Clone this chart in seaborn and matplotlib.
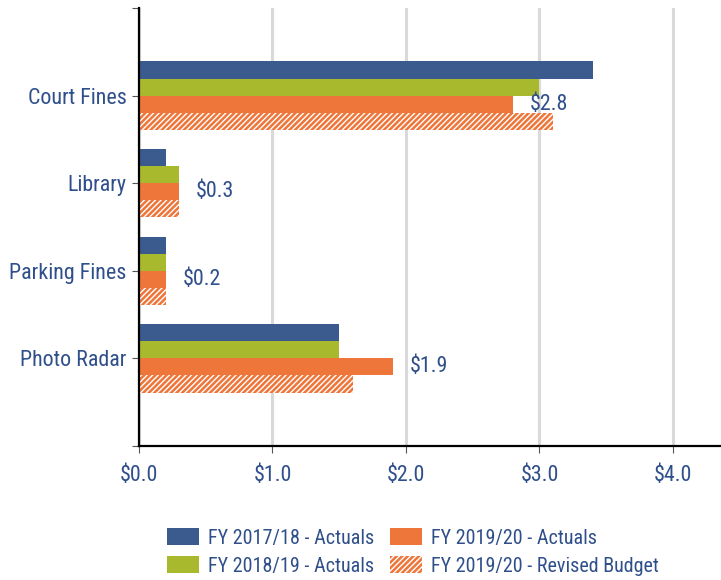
import matplotlib
matplotlib.use('Agg')
import matplotlib.pyplot as plt
import seaborn as sns
import pandas as pd

# data (in $ millions)
categories = ['Court Fines', 'Library', 'Parking Fines', 'Photo Radar']
series = ['FY 2017/18 - Actuals', 'FY 2018/19 - Actuals',
          'FY 2019/20 - Actuals', 'FY 2019/20 - Revised Budget']
fy1718 = [3.4, 0.2, 0.2, 1.5]
fy1819 = [3.0, 0.3, 0.2, 1.5]
fy1920 = [2.8, 0.3, 0.2, 1.9]
fy1920_budget = [3.1, 0.3, 0.2, 1.6]
x_ticks = [0, 1, 2, 3, 4]

colors = ['#3b5b8e', '#a9b92d', '#ee763a', '#ee763a']
text_color = '#2f4f8b'

df = pd.DataFrame({
    'Category': categories * 4,
    'Series': [s for s in series for _ in categories],
    'Value': fy1718 + fy1819 + fy1920 + fy1920_budget,
})

sns.set_style('white')
plt.rcParams['font.family'] = ['Roboto Condensed', 'DejaVu Sans']
plt.rcParams['hatch.linewidth'] = 1.0

fig = plt.figure(figsize=(7.21, 5.8), dpi=100)
ax = fig.add_axes([139 / 721, 1 - 446 / 580, 582 / 721, 438 / 580])

sns.barplot(data=df, y='Category', x='Value', hue='Series', order=categories,
            hue_order=series, palette=colors, orient='h', width=0.78,
            saturation=1, legend=False, ax=ax)

# hatched revised budget bars
for p in ax.containers[3]:
    p.set_hatch('//////')
    p.set_edgecolor('white')
    p.set_linewidth(0)
for c in ax.containers[:3]:
    for p in c:
        p.set_linewidth(0)

ax.bar_label(ax.containers[2], labels=[f'${v:.1f}' for v in fy1920],
             padding=12, color=text_color, fontsize=15.8)

ax.set_xlim(0, 4.36)
ax.set_ylim(4, -1)
ax.set_xticks(x_ticks)
ax.set_xticklabels([f'${v:.1f}' for v in x_ticks])
ax.set_yticks([-1, 0, 1, 2, 3, 4])
ax.set_yticklabels([''] + categories + [''])
ax.set_xlabel('')
ax.set_ylabel('')

ax.grid(axis='x', color='#d9d9d9', linewidth=2.2)
ax.grid(axis='y', visible=False)
ax.set_axisbelow(True)

for side in ['top', 'right']:
    ax.spines[side].set_visible(False)
for side in ['left', 'bottom']:
    ax.spines[side].set_color('black')
    ax.spines[side].set_linewidth(1.6)

ax.tick_params(axis='both', which='major', length=5, width=0.8, color='#555555',
               labelcolor=text_color, labelsize=15.8, left=True, bottom=True)
ax.tick_params(axis='y', pad=4)
ax.tick_params(axis='x', pad=9)

handles = list(ax.containers)
# column order: 17/18, 18/19 | 19/20 actuals, 19/20 revised
ax.legend(handles, series, ncol=2, frameon=False, fontsize=14.5,
          loc='upper left', bbox_to_anchor=(167 / 721, 1 - 528 / 580),
          bbox_transform=fig.transFigure, borderpad=0, borderaxespad=0,
          handlelength=1.6, handleheight=0.95, handletextpad=0.45,
          columnspacing=0.75, labelspacing=0.42, labelcolor=text_color)

fig.savefig('out.png', dpi=100)
